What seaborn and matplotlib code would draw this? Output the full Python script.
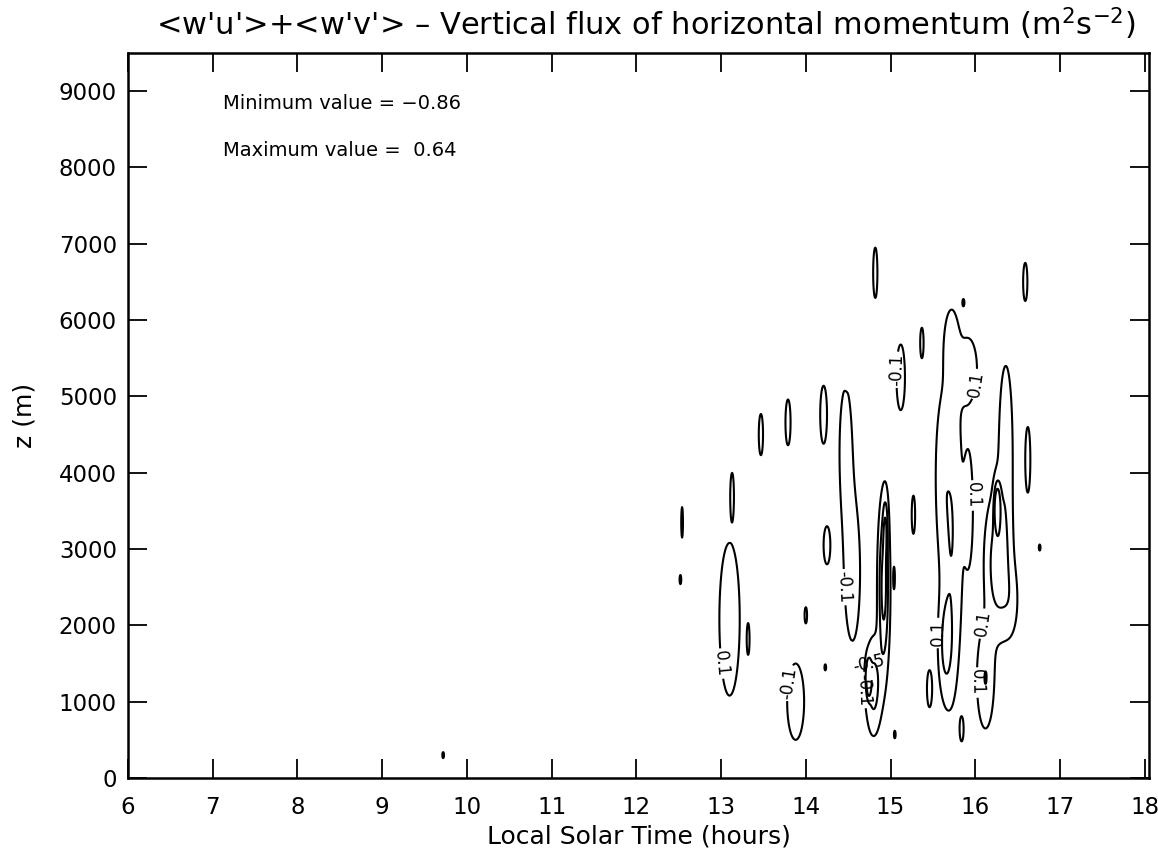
import numpy as np
import pandas as pd
import matplotlib
matplotlib.use("Agg")
import matplotlib.pyplot as plt
import seaborn as sns

# ---- data: flux features (cells of the contour field) ----
# local solar time of feature centre (h), height of centre (m),
# half-width of the 0.1 outline (h), half-height of the 0.1 outline (m), peak value
feat_time = [14.82, 16.59, 15.86, 15.12, 15.37, 15.72,
             15.92, 15.72, 15.60, 15.92, 15.65,
             16.36, 16.27, 16.12, 16.26, 16.42,
             14.92, 14.80, 14.94, 14.74,
             13.10, 13.13, 12.54, 12.52, 13.47, 13.79, 14.21, 14.48, 14.25,
             14.47, 14.55, 13.32, 14.00, 13.88, 14.23, 15.27, 15.04,
             16.62, 15.84, 15.46, 16.76, 15.05, 9.72]
feat_height = [6620, 6500, 6230, 5250, 5700, 5650,
               5350, 3200, 4000, 3530, 1730,
               4300, 2800, 1300, 3560, 2300,
               2500, 1200, 3300, 1300,
               2080, 3710, 3350, 2600, 4500, 4660, 4760, 5310, 3050,
               4300, 2700, 1820, 2130, 1000, 1450, 3450, 2620,
               4170, 640, 1170, 3020, 570, 300]
feat_halfwidth = [0.025, 0.025, 0.010, 0.050, 0.020, 0.070,
                  0.100, 0.130, 0.050, 0.050, 0.080,
                  0.080, 0.170, 0.100, 0.050, 0.060,
                  0.080, 0.100, 0.030, 0.040,
                  0.120, 0.020, 0.010, 0.010, 0.025, 0.030, 0.040, 0.010, 0.040,
                  0.070, 0.090, 0.015, 0.015, 0.100, 0.010, 0.020, 0.012,
                  0.030, 0.020, 0.030, 0.010, 0.010, 0.010]
feat_halfheight = [330, 250, 40, 430, 200, 380,
                   400, 2100, 600, 700, 600,
                   1100, 1000, 650, 400, 300,
                   1300, 650, 400, 300,
                   1000, 280, 200, 60, 270, 300, 380, 60, 250,
                   800, 900, 190, 110, 500, 40, 250, 170,
                   430, 140, 240, 40, 50, 40]
feat_peak = [0.20, 0.20, 0.15, -0.25, 0.20, 0.20,
             0.20, 0.30, 0.15, 0.25, 0.30,
             0.25, 0.45, 0.30, 0.64, 0.15,
             -0.60, -0.40, -0.30, -0.86,
             0.28, 0.28, 0.15, 0.12, 0.20, 0.20, -0.20, 0.12, 0.20,
             -0.18, -0.20, 0.15, 0.15, -0.20, 0.12, 0.20, 0.15,
             0.20, 0.20, 0.20, 0.12, 0.12, 0.12]

# where the contour labels sit in the reference (time h, height m)
label_time = [13.01, 13.77, 14.44, 14.63, 14.74, 15.05, 16.09, 15.88, 15.56, 16.05, 15.96]
label_height = [1500, 1250, 2500, 1150, 1500, 5350, 5150, 3700, 1900, 2030, 1250]

contour_levels = [-0.5, -0.3, -0.1, 0.1, 0.3, 0.5]
x_ticks = [6, 7, 8, 9, 10, 11, 12, 13, 14, 15, 16, 17, 18]
y_ticks = [0, 1000, 2000, 3000, 4000, 5000, 6000, 7000, 8000, 9000]
min_value = -0.86
max_value = 0.64

# ---- build the field on a grid ----
feats = pd.DataFrame(dict(t=feat_time, z=feat_height, hw=feat_halfwidth,
                          hh=feat_halfheight, a=feat_peak))
tt = np.arange(6.0, 18.1, 0.005)
zz = np.arange(0.0, 9550.0, 15.0)
T, Z = np.meshgrid(tt, zz)
F = np.zeros_like(T)
for _, r in feats.iterrows():
    k = np.sqrt(2 * np.log(max(abs(r.a), 0.105) / 0.1))
    st, sz = r.hw / k, r.hh / k
    F += r.a * np.exp(-0.5 * (((T - r.t) / st) ** 2 + ((Z - r.z) / sz) ** 2))

# ---- plot ----
sns.set_theme(style="white")
plt.rcParams["font.family"] = ["DejaVu Sans"]
plt.rcParams["mathtext.default"] = "regular"
plt.rcParams["text.color"] = "black"
plt.rcParams["axes.labelcolor"] = "black"

fig = plt.figure(figsize=(11.58, 8.56), dpi=100)
ax = fig.add_axes([0.1105, 0.0911, 0.8817, 0.8470])

cs = ax.contour(T, Z, F, levels=contour_levels, colors="black",
                linestyles="solid", linewidths=1.5)
ax.clabel(cs, fmt="%.1f", fontsize=12, inline=True, inline_spacing=2,
          manual=list(zip(label_time, label_height)))

ax.set_xlim(6, 18.05)
ax.set_ylim(0, 9500)
ax.set_xticks(x_ticks)
ax.set_yticks(y_ticks)
ax.tick_params(direction="in", length=14, width=1.3, top=True, right=True,
               bottom=True, left=True, labelsize=16.5, colors="black")
ax.tick_params(axis="x", pad=13)
ax.tick_params(axis="y", pad=8)
for s in ax.spines.values():
    s.set_linewidth(1.8)
    s.set_color("black")

ax.set_xlabel("Local Solar Time (hours)", fontsize=18, labelpad=4)
ax.set_ylabel("z (m)", fontsize=18, labelpad=16)
ax.set_title("<w'u'>+<w'v'> – Vertical flux of horizontal momentum (m$^{2}$s$^{-2}$)",
             fontsize=22, pad=13, x=0.507)

ax.text(0.093, 0.930, f"Minimum value = {min_value:.2f}".replace("-", "\u2212"),
        transform=ax.transAxes, fontsize=14, va="center")
ax.text(0.093, 0.866, f"Maximum value =  {max_value:.2f}",
        transform=ax.transAxes, fontsize=14, va="center")

fig.savefig("out.png", dpi=100, facecolor="white")
